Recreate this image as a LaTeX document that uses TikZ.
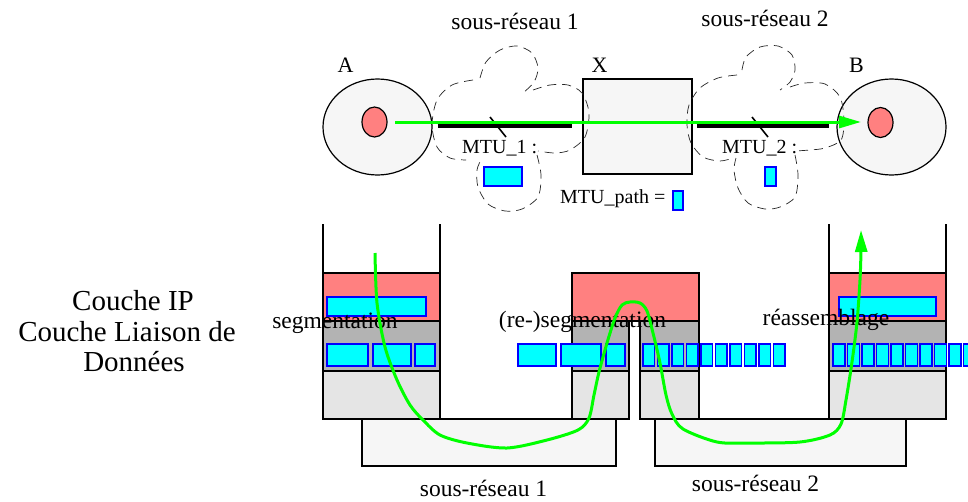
\documentclass[tikz,border=0pt]{standalone}
\usepackage{fontspec}
\setmainfont{Liberation Serif}
\usetikzlibrary{
  shapes.geometric,
  arrows.meta,
  positioning
}
\definecolor{salmon}{RGB}{255, 128, 128}
\definecolor{pktcyan}{RGB}{0, 255, 255}
\definecolor{ipgray}{RGB}{179, 179, 179}
\definecolor{lowgray}{RGB}{229, 229, 229}
\definecolor{palegray}{RGB}{246, 246, 246}
\definecolor{pathgreen}{RGB}{0, 255, 0}

\begin{document}
\begin{tikzpicture}[
  x=1pt, y=-1pt,
  host/.style={ellipse, draw=black, line width=1.2pt, fill=palegray, inner sep=0pt, minimum width=109pt, minimum height=96pt},
  iface/.style={ellipse, draw=black, line width=1.2pt, fill=salmon, inner sep=0pt, minimum width=25pt, minimum height=30pt},
  router/.style={rectangle, draw=black, line width=1.6pt, fill=palegray, inner sep=0pt, minimum width=109pt, minimum height=95pt},
  lbl/.style={font=\fontsize{23.5}{28}\selectfont, inner sep=0pt, anchor=base},
  mtu/.style={font=\fontsize{20}{24}\selectfont, inner sep=0pt, anchor=base west},
  layertxt/.style={font=\fontsize{29}{31}\selectfont, inner sep=0pt, anchor=base},
  pkt/.style={draw=blue, fill=pktcyan, line width=1.3pt},
  layer/.style={draw=black, line width=1.6pt, fill=#1},
  cloudlobe/.style={draw=black!85, dash pattern=on 9pt off 6pt, line width=0.7pt},
  link/.style={line width=4pt, black},
  flow/.style={draw=pathgreen, line width=3pt, -{Triangle[length=22pt, width=12pt]}}
]
\useasboundingbox (0,0) rectangle (968,501);

% Top: hosts and router
\node[host] (hostA) at (377.5,127) {};
\node[iface] (ifA) at (374.5,122) {};
\node[host] (hostB) at (891.5,127) {};
\node[iface] (ifB) at (880.5,122.5) {};
\node[router] (routerX) at (637.5,126.5) {};

\node[lbl, font=\fontsize{22}{26}\selectfont] (nameA) at (345.5,72) {A};
\node[lbl, font=\fontsize{22}{26}\selectfont] (nameX) at (599.5,72) {X};
\node[lbl, font=\fontsize{22}{26}\selectfont] (nameB) at (856.5,72) {B};

\node[lbl] (subnetA) at (515,29) {sous-réseau 1};
\node[lbl] (subnetB) at (765,26) {sous-réseau 2};

% Links across the two subnets
\draw[link] ([xshift=5pt]hostA.east |- 0,126) -- ([xshift=-10pt]routerX.west |- 0,126);
\draw[link] ([xshift=4pt]routerX.east |- 0,126) -- ([xshift=-7pt]hostB.west |- 0,126);
\draw[line width=1.6pt] (490,117) -- (506,137);
\draw[line width=1.6pt] (752,117) -- (768,137);

% Cloud of subnet 1
\draw[cloudlobe] plot[smooth] coordinates {(473,80) (452,85) (437,100) (432,125) (437,147) (450,158) (466,160)};
\draw[cloudlobe] plot[smooth] coordinates {(480,78) (486,62) (500,50) (517,46) (532,53) (538,68) (534,82) (523,93)};
\draw[cloudlobe] plot[smooth] coordinates {(533,90) (550,85) (568,85) (582,93) (589,113) (585,137) (570,150) (555,153) (538,151)};
\draw[cloudlobe] plot[smooth] coordinates {(537,155) (541,175) (538,197) (522,209) (505,211) (488,204) (478,187) (477,170) (481,160)};

% Cloud of subnet 2
\draw[cloudlobe] plot[smooth] coordinates {(737,75) (718,78) (700,88) (689,105) (687,125) (691,143) (703,157) (720,161) (733,158)};
\draw[cloudlobe] plot[smooth] coordinates {(742,70) (746,57) (760,47) (778,46) (792,55) (795,70) (790,82) (780,90)};
\draw[cloudlobe] plot[smooth] coordinates {(790,87) (805,83) (825,84) (840,97) (844,120) (841,140) (825,148) (810,150) (795,151)};
\draw[cloudlobe] plot[smooth] coordinates {(795,155) (798,175) (795,197) (780,207) (765,209) (748,203) (738,188) (734,170) (736,158)};

% MTU labels
\node[mtu] (mtuA) at (462,153) {MTU\_1 :};
\node[mtu] (mtuB) at (722,153) {MTU\_2 :};
\node[mtu] (mtuPath) at (560,203) {MTU\_path =};
\draw[pkt] (484,167) rectangle (522,186);
\draw[pkt] (765,167) rectangle (776,186);
\draw[pkt] (673,191) rectangle (683,210);

% End-to-end path on top
\coordinate (srcA) at (395,122);
\coordinate (dstB) at (861,122);
\draw[flow] (srcA) -- (dstB);

% Bottom: subnets
\draw[layer=palegray] (362,419) rectangle (616,466);
\draw[layer=palegray] (655,419) rectangle (906,466);
\node[lbl] (netA) at (483.5,496) {sous-réseau 1};
\node[lbl] (netB) at (755.5,491) {sous-réseau 2};

% Stack of A
\draw[line width=1.6pt] (323,224) -- (323,273) (440,224) -- (440,273);
\draw[layer=salmon] (323,273) rectangle (440,321);
\draw[layer=ipgray] (323,321) rectangle (440,371);
\draw[layer=lowgray] (323,371) rectangle (440,419);

% Stack of X
\draw[layer=salmon] (572,273) rectangle (699,321);
\draw[layer=ipgray] (572,321) rectangle (629,371);
\draw[layer=lowgray] (572,371) rectangle (629,419);
\draw[layer=ipgray] (640,321) rectangle (699,371);
\draw[layer=lowgray] (640,371) rectangle (699,419);

% Stack of B
\draw[line width=1.6pt] (829,224) -- (829,273) (946,224) -- (946,273);
\draw[layer=salmon] (829,273) rectangle (946,321);
\draw[layer=ipgray] (829,321) rectangle (946,371);
\draw[layer=lowgray] (829,371) rectangle (946,419);

% Layer names
\node[layertxt] (ipLayer) at (133,310) {Couche IP};
\node[layertxt] (dlLayer) at (127,341) {Couche Liaison de};
\node[layertxt] (dlLayer2) at (134,371) {Données};

% Datagrams and fragments
\draw[pkt] (327,297) rectangle (426,316);
\draw[pkt] (327,344) rectangle (368,366);
\draw[pkt] (373,344) rectangle (411,366);
\draw[pkt] (415,344) rectangle (435,366);

\draw[pkt] (518,344) rectangle (556,366);
\draw[pkt] (561,344) rectangle (601,366);
\draw[pkt] (606,344) rectangle (625,366);
\foreach \i in {0,...,9}
  \draw[pkt] (643+14.5*\i,344) rectangle (654.5+14.5*\i,366);

\draw[pkt] (839,297) rectangle (936,316);
\begin{scope}
  \clip (820,330) rectangle (968,380);
  \foreach \i in {0,...,9}
    \draw[pkt] (833+14.5*\i,344) rectangle (845+14.5*\i,366);
\end{scope}

% Operation labels
\node[lbl] (segA) at (335,328) {segmentation};
\node[lbl] (segX) at (582.5,327) {(re-)segmentation};
\node[lbl] (reasB) at (826,325) {réassemblage};

% Path through the stacks
\coordinate (startA) at (375,253);
\coordinate (endB) at (861,230);
\draw[flow] plot[smooth, tension=0.5] coordinates {(startA) (377,303) (385,347) (397,380) (410,405) (423,420) (440,435) (467,443) (507,448) (547,440) (578,430) (589,418) (594,395) (599,372) (607,343) (615,318) (622,305) (630,302) (640,303) (647,311) (653,333) (660,363) (666,395) (672,414) (683,429) (717,442) (750,443) (800,442) (830,435) (841,424) (846,400) (852,362) (857,322) (860,280) (861,250) (endB)};

\end{tikzpicture}
\end{document}
